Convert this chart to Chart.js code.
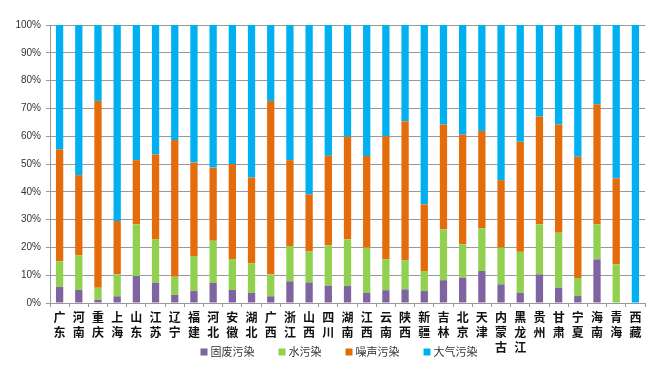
<!DOCTYPE html>
<html>
<head>
<meta charset="utf-8">
<script src="https://cdn.jsdelivr.net/npm/chart.js@4/dist/chart.umd.min.js"></script>
<style>
  html, body { margin: 0; padding: 0; background: #fff; }
  #chart { display: block; }
</style>
</head>
<body>
<canvas id="chart" width="664" height="373"></canvas>
<script>
const provinces = ["广东", "河南", "重庆", "上海", "山东", "江苏", "辽宁", "福建", "河北", "安徽",
  "湖北", "广西", "浙江", "山西", "四川", "湖南", "江西", "云南", "陕西", "新疆",
  "吉林", "北京", "天津", "内蒙古", "黑龙江", "贵州", "甘肃", "宁夏", "海南", "青海", "西藏"];

// share of each kind of complaint, percent
const solidWaste = [5.8, 4.7, 1.1, 2.4, 9.7, 7.3, 2.9, 4.3, 7.2, 4.7,
  3.6, 2.4, 7.8, 7.4, 6.2, 6.1, 3.6, 4.6, 4.9, 4.3,
  8.2, 9.1, 11.5, 6.7, 3.6, 10.3, 5.5, 2.5, 15.7, 0, 0];
const water = [9.2, 12.5, 4.4, 7.9, 18.6, 15.7, 6.5, 12.6, 15.2, 11.1,
  10.7, 7.9, 12.7, 11.1, 14.6, 16.8, 16.3, 11.1, 10.5, 7.2,
  18.3, 12.0, 15.4, 13.2, 14.8, 18.0, 19.8, 6.5, 12.6, 13.9, 0];
const noise = [40.2, 28.8, 67.2, 19.2, 23.1, 30.4, 49.2, 33.6, 26.3, 34.2,
  30.8, 62.4, 30.9, 20.6, 32.2, 36.9, 33.0, 44.3, 50.0, 24.0,
  37.7, 39.5, 35.0, 24.3, 39.6, 38.8, 38.9, 43.6, 43.2, 30.9, 0];
const air = [44.8, 54.0, 27.3, 70.5, 48.6, 46.6, 41.4, 49.5, 51.3, 50.0,
  54.9, 27.3, 48.6, 60.9, 47.0, 40.2, 47.1, 40.0, 34.6, 64.5,
  35.8, 39.4, 38.1, 55.8, 42.0, 32.9, 35.8, 47.4, 28.5, 55.2, 100];

const seriesNames = ["固废污染", "水污染", "噪声污染", "大气污染"];
const yTicks = [0, 10, 20, 30, 40, 50, 60, 70, 80, 90, 100];

const colors = ["#8064A2", "#92D050", "#E46C0A", "#00B0F0"];
const cjk = "'Noto Sans CJK SC', 'Noto Sans', sans-serif";

// legend sits over the bottom of the long labels (内蒙古, 黑龙江),
// so it is drawn by hand in one row instead of taking its own layout box
const legendRow = {
  id: "legendRow",
  afterDraw(chart) {
    const c = chart.ctx;
    const box = 7, gap = 3, space = 24, y = 352, centerX = 339;
    c.save();
    c.font = "11px " + cjk;
    c.textBaseline = "middle";
    const items = chart.data.datasets.map(ds => ({
      text: ds.label, color: ds.backgroundColor, w: c.measureText(ds.label).width
    }));
    const total = items.reduce((s, it) => s + box + gap + it.w, 0) + space * (items.length - 1);
    let x = centerX - total / 2;
    items.forEach(it => {
      c.fillStyle = it.color;
      c.fillRect(x, y - box / 2, box, box);
      c.fillStyle = "#333";
      c.fillText(it.text, x + box + gap, y);
      x += box + gap + it.w + space;
    });
    c.restore();
  }
};

const ctx = document.getElementById("chart");
new Chart(ctx, {
  type: "bar",
  data: {
    // each name split into one character per line
    labels: provinces.map(p => p.split("")),
    datasets: [solidWaste, water, noise, air].map((d, i) => ({
      label: seriesNames[i],
      data: d,
      backgroundColor: colors[i],
      borderWidth: 0,
      barPercentage: 0.38,
      categoryPercentage: 1
    }))
  },
  options: {
    responsive: false,
    animation: false,
    layout: { padding: { left: 0, right: 19, top: 25, bottom: 4 } },
    plugins: {
      tooltip: { enabled: false },
      legend: { display: false }
    },
    scales: {
      x: {
        stacked: true,
        grid: { display: true, drawOnChartArea: false, color: "#999", tickLength: 4 },
        border: { color: "#999" },
        ticks: {
          autoSkip: false,
          maxRotation: 0,
          padding: 3,
          color: "#111",
          font: { family: cjk, size: 12, weight: "bold", lineHeight: 1.25 }
        },
        afterFit: s => { s.height = 66; }
      },
      y: {
        stacked: true,
        min: 0,
        max: 100,
        afterBuildTicks: s => { s.ticks = yTicks.map(v => ({ value: v })); },
        grid: { color: "#999", tickLength: 4 },
        border: { color: "#999" },
        ticks: {
          padding: 5,
          color: "#333",
          font: { family: "'Liberation Sans', Arial, sans-serif", size: 10 },
          callback: v => v + "%"
        },
        afterFit: s => { s.width = 50; }
      }
    }
  },
  plugins: [legendRow]
});
</script>
</body>
</html>
